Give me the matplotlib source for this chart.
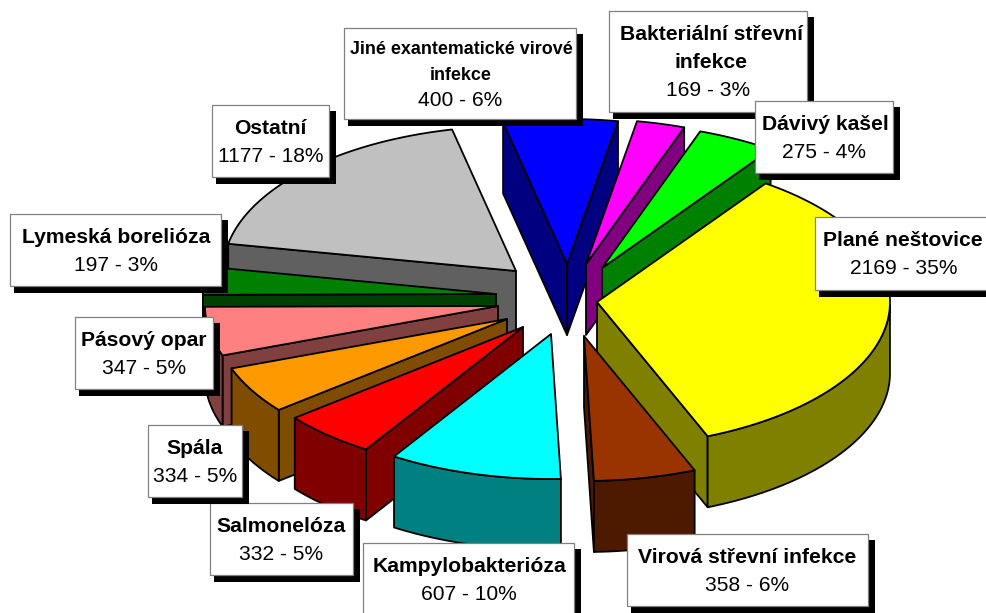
import numpy as np
import matplotlib
matplotlib.use("Agg")
import matplotlib.pyplot as plt
from matplotlib.patches import Polygon, Rectangle

plt.rcParams['font.family'] = ['Liberation Sans', 'DejaVu Sans']

# data (clockwise from the top)
names = [["Jiné exantematické virové", "infekce"],
         ["Bakteriální střevní", "infekce"],
         ["Dávivý kašel"],
         ["Plané neštovice"],
         ["Virová střevní infekce"],
         ["Kampylobakterióza"],
         ["Salmonelóza"],
         ["Spála"],
         ["Pásový opar"],
         ["Lymeská borelióza"],
         ["Ostatní"]]
values = [400, 169, 275, 2169, 358, 607, 332, 334, 347, 197, 1177]
percents = [6, 3, 4, 35, 6, 10, 5, 5, 5, 3, 18]

# style
top_colors = ['#0000ff', '#ff00ff', '#00ff00', '#ffff00', '#993300', '#00ffff',
              '#ff0000', '#ff9900', '#ff8080', '#008000', '#c0c0c0']
side_colors = ['#000080', '#800080', '#008000', '#808000', '#4d1a00', '#008080',
               '#800000', '#804d00', '#804040', '#004000', '#606060']
explode_x = [20, 39, 55, 50, 37, 4, -24, -40, -49, -51, -31]
explode_y = [-36, -36, -32, 2, 36, 34, 27, 19, 6, -6, -29]
draw_order = [0, 1, 2, 10, 9, 8, 7, 6, 5, 3, 4]
start_angle = 102.6
center_x, center_y = 547, 300
radius_x, radius_y, depth = 293, 145, 71

# label boxes: left, top, right, bottom, bold size, line step, text shift
boxes = [(344, 28, 576, 119, 12.9, 26, 1),
         (609, 11, 807, 112, 15.2, 28, 3),
         (755, 101, 893, 173, 15.2, 28, 1),
         (815, 217, 993, 290, 15.2, 28, -1),
         (627, 534, 868, 606, 15.2, 28, 0),
         (363, 543, 574, 615, 15.2, 29, 1),
         (210, 503, 353, 575, 15.2, 28, 0),
         (148, 425, 242, 497, 15.2, 28, 0),
         (75, 317, 213, 389, 15.2, 28, 0),
         (10, 214, 221, 286, 15.2, 28, 1),
         (212, 105, 329, 177, 15.2, 28, 0)]

W, H = 987, 613
fig = plt.figure(figsize=(W / 100, H / 100), dpi=100, facecolor='white')
ax = fig.add_axes([0, 0, 1, 1])
ax.set_xlim(0, W)
ax.set_ylim(H, 0)
ax.axis('off')

sweeps = np.array(values) / sum(values) * 360
starts = start_angle - np.concatenate(([0], np.cumsum(sweeps)[:-1]))
LW = 1.3

for z, i in enumerate(draw_order):
    ax0, ay0 = center_x + explode_x[i], center_y + explode_y[i]
    t = np.radians(np.linspace(starts[i], starts[i] - sweeps[i], 80))
    px = ax0 + radius_x * np.cos(t)
    py = ay0 - radius_y * np.sin(t)
    kw = dict(facecolor=side_colors[i], edgecolor='black', linewidth=LW,
              joinstyle='round', zorder=z * 2 + 1)

    def face(xs, ys):
        pts = list(zip(xs, ys)) + list(zip(xs[::-1], np.array(ys[::-1]) + depth))
        ax.add_patch(Polygon(pts, closed=True, **kw))

    # radial faces, drawn only when they face the viewer
    if px[0] < ax0:
        face(np.array([ax0, px[0]]), np.array([ay0, py[0]]))
    if ax0 < px[-1]:
        face(np.array([px[-1], ax0]), np.array([py[-1], ay0]))
    # outer rim, front half of the ellipse only
    mask = np.sin(t) <= 0
    if mask.sum() > 1:
        face(px[mask], py[mask])
    # top face
    top = [(ax0, ay0)] + list(zip(px, py))
    ax.add_patch(Polygon(top, closed=True, facecolor=top_colors[i], edgecolor='black',
                         linewidth=LW, joinstyle='round', zorder=z * 2 + 2))

for i, (l, tp, r, b, fs, step, shift) in enumerate(boxes):
    ax.add_patch(Rectangle((l + 4, tp + 6), r - l + 3, b - tp + 1, facecolor='black',
                           edgecolor='none', zorder=100 + i * 2))
    ax.add_patch(Rectangle((l, tp), r - l, b - tp, facecolor='white', edgecolor='#808080',
                           linewidth=0.9, zorder=101 + i * 2))
    lines = names[i] + [f"{values[i]} - {percents[i]}%"]
    cx, cy = (l + r) / 2, (tp + b) / 2
    n = len(lines)
    for k, s in enumerate(lines):
        last = k == n - 1
        y = cy + (k - (n - 1) / 2) * step + 7
        ax.text(cx + (0 if last else shift), y, s, ha='center', va='baseline', color='black',
                fontsize=15.1 if last else fs, fontweight='normal' if last else 'bold',
                zorder=101 + i * 2)

fig.savefig('out.png', dpi=100, facecolor='white')
